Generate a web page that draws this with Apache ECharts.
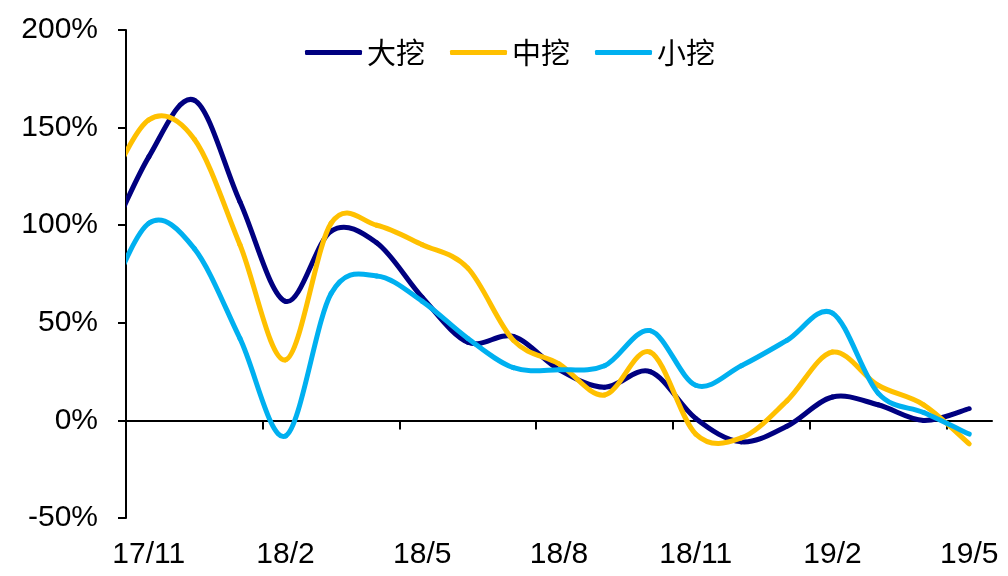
<!DOCTYPE html>
<html>
<head>
<meta charset="utf-8">
<script src="https://cdn.jsdelivr.net/npm/echarts@6/dist/echarts.min.js"></script>
<style>
  html, body { margin: 0; padding: 0; background: #fff; }
  #chart { width: 1008px; height: 576px; }
</style>
</head>
<body>
<div id="chart"></div>
<script>
// Monthly year-on-year growth of excavator sales, by size class (%)
const months = ['17/10', '17/11', '17/12', '18/1', '18/2', '18/3', '18/4', '18/5', '18/6', '18/7',
                '18/8', '18/9', '18/10', '18/11', '18/12', '19/1', '19/2', '19/3', '19/4', '19/5'];
const large  = [86, 135, 164, 112, 61, 97, 91, 63, 40, 43, 26, 17, 25, 1, -11, -3, 12, 8, 0, 6];
const medium = [114, 154, 144, 90, 31, 101, 100, 90, 78, 41, 29, 13, 35, -7, -9, 10, 35, 18, 8, -12];
const small  = [56, 101, 88, 42, -8, 65, 74, 61, 42, 27, 26, 28, 46, 18, 28, 41, 55, 14, 4, -7];
const seriesNames = ['大挖', '中挖', '小挖'];
const yTicks = { min: -50, max: 200, step: 50 };
// Quarterly labels shown on the time axis
const labelMonths = ['17/11', '18/2', '18/5', '18/8', '18/11', '19/2', '19/5'];

const labelIdx = labelMonths.map(m => months.indexOf(m));
const tickIdx = labelIdx.map(i => i - 0.5);

const colors = ['#000080', '#FFC000', '#00B0F0'];
const latin = '"Liberation Sans", Arial, sans-serif';

// Smooth line drawn segment by segment as cubic Bezier curves through the
// data points (Catmull-Rom tangents), positioned through the axes via api.coord.
function smoothLineSeries(name, vals, color) {
  return {
    name: name,
    type: 'custom',
    clip: true,
    itemStyle: { color: color },
    data: vals.map((v, i) => [i, v]),
    encode: { x: 0, y: 1 },
    renderItem: function (params, api) {
      const i = params.dataIndex;
      const n = vals.length;
      if (i >= n - 1) return null;
      const p = j => {
        const c = Math.max(0, Math.min(n - 1, j));
        return api.coord([c, vals[c]]);
      };
      const p0 = p(i - 1), p1 = p(i), p2 = p(i + 1), p3 = p(i + 2);
      const k = 1 / 6;
      return {
        type: 'bezierCurve',
        shape: {
          x1: p1[0], y1: p1[1],
          x2: p2[0], y2: p2[1],
          cpx1: p1[0] + (p2[0] - p0[0]) * k,
          cpy1: p1[1] + (p2[1] - p0[1]) * k,
          cpx2: p2[0] - (p3[0] - p1[0]) * k,
          cpy2: p2[1] - (p3[1] - p1[1]) * k
        },
        style: { stroke: color, fill: null, lineWidth: 5, lineCap: 'round' }
      };
    }
  };
}

const chart = echarts.init(document.getElementById('chart'), null, { renderer: 'canvas' });
chart.setOption({
  animation: false,
  backgroundColor: '#fff',
  color: colors,
  grid: { left: 126, right: 16, top: 30, bottom: 58, containLabel: false, outerBoundsMode: 'none' },
  legend: {
    left: 300,
    top: 33,
    icon: 'roundRect',
    itemWidth: 57,
    itemHeight: 5,
    itemGap: 25,
    textStyle: { fontFamily: '"Noto Sans CJK SC"', fontSize: 29, color: '#000' },
    data: seriesNames
  },
  xAxis: {
    type: 'value',
    min: 0.5,
    max: 19.5,
    splitLine: { show: false },
    axisLine: { onZero: true, lineStyle: { color: '#000', width: 2 } },
    axisTick: { show: true, length: 9, customValues: tickIdx, lineStyle: { color: '#000', width: 2 } },
    axisLabel: {
      customValues: labelIdx,
      margin: 22,
      fontFamily: latin,
      fontSize: 30,
      color: '#000',
      formatter: v => months[Math.round(v)] || ''
    }
  },
  yAxis: {
    type: 'value',
    min: yTicks.min,
    max: yTicks.max,
    interval: yTicks.step,
    splitLine: { show: false },
    axisLine: { show: true, onZero: false, lineStyle: { color: '#000', width: 2 } },
    axisTick: { show: true, length: 8, lineStyle: { color: '#000', width: 2 } },
    axisLabel: { margin: 28, fontFamily: latin, fontSize: 30, color: '#000', formatter: '{value}%' }
  },
  series: [large, medium, small].map((vals, k) => smoothLineSeries(seriesNames[k], vals, colors[k]))
});
</script>
</body>
</html>
